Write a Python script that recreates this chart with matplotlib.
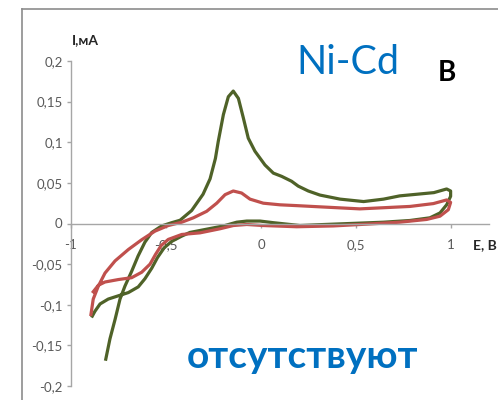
import matplotlib
matplotlib.use("Agg")
import matplotlib.pyplot as plt
from matplotlib.lines import Line2D
from matplotlib.ticker import FuncFormatter

# ---- data: cyclic voltammograms, E in V, I in mA ----
green_e = [-0.817, -0.795, -0.768, -0.742, -0.716, -0.681, -0.647, -0.611, -0.575,
           -0.523, -0.470, -0.426, -0.365, -0.305, -0.268, -0.240, -0.225, -0.198,
           -0.172, -0.146, -0.119, -0.093, -0.067, -0.032, 0.021, 0.065, 0.109,
           0.161, 0.196, 0.249, 0.310, 0.416, 0.540, 0.645, 0.730, 0.820, 0.910,
           0.977, 0.998, 0.998, 0.977, 0.942, 0.889, 0.784, 0.645, 0.468, 0.293,
           0.205, 0.153, 0.065, -0.005, -0.075, -0.128, -0.198, -0.286, -0.374,
           -0.417, -0.470, -0.510, -0.545, -0.575, -0.611, -0.646, -0.698, -0.751,
           -0.804, -0.847, -0.874, -0.888]
green_i = [-0.167, -0.142, -0.118, -0.093, -0.077, -0.059, -0.040, -0.023, -0.011,
           -0.003, 0.001, 0.004, 0.016, 0.036, 0.055, 0.080, 0.101, 0.134,
           0.156, 0.163, 0.154, 0.130, 0.105, 0.089, 0.072, 0.062, 0.058,
           0.052, 0.046, 0.040, 0.035, 0.030, 0.027, 0.030, 0.034, 0.036, 0.038,
           0.0425, 0.040, 0.0335, 0.023, 0.013, 0.007, 0.0037, 0.0016, 0.0, -0.0016,
           -0.0025, -0.0012, 0.001, 0.003, 0.003, 0.0016, -0.003, -0.007, -0.011,
           -0.0155, -0.022, -0.030, -0.042, -0.055, -0.068, -0.078, -0.085, -0.089,
           -0.093, -0.099, -0.108, -0.114]

red_e = [-0.895, -0.883, -0.856, -0.821, -0.768, -0.698, -0.628, -0.558, -0.488,
         -0.417, -0.356, -0.286, -0.233, -0.189, -0.146, -0.102, -0.058, 0.012,
         0.100, 0.188, 0.310, 0.520, 0.784, 0.907, 0.977, 0.998, 0.986, 0.942,
         0.872, 0.730, 0.556, 0.380, 0.188, 0.012, -0.075, -0.146, -0.216, -0.321,
         -0.417, -0.488, -0.525, -0.555, -0.584, -0.628, -0.681, -0.751, -0.821,
         -0.856, -0.883]
red_i = [-0.112, -0.093, -0.077, -0.061, -0.046, -0.032, -0.020, -0.0094, -0.0025,
         0.0016, 0.007, 0.015, 0.025, 0.0355, 0.040, 0.0375, 0.030, 0.025,
         0.023, 0.022, 0.0205, 0.018, 0.021, 0.0245, 0.029, 0.026, 0.017, 0.009,
         0.005, 0.0016, -0.0008, -0.003, -0.004, -0.0025, -0.0012, -0.0025, -0.0065, -0.0115,
         -0.0135, -0.0196, -0.027, -0.038, -0.050, -0.060, -0.0667, -0.069, -0.072,
         -0.076, -0.084]

x_ticks = [-1, -0.5, 0, 0.5, 1]
y_ticks = [-0.2, -0.15, -0.1, -0.05, 0, 0.05, 0.1, 0.15, 0.2]

plt.rcParams['font.family'] = ['Lato', 'DejaVu Sans']

fig = plt.figure(figsize=(4.98, 4.00), dpi=100)
ax = fig.add_axes([71 / 498, 14 / 400, 418 / 498, 325 / 400])

ax.plot(green_e, green_i, color='#4F6228', lw=2.3, solid_joinstyle='round')
ax.plot(red_e, red_i, color='#C0504D', lw=2.3, solid_joinstyle='round')

ax.set_xlim(-1, 1.2)
ax.set_ylim(-0.2, 0.2)

# axes cross at zero current, Excel style
ax.spines['top'].set_visible(False)
ax.spines['right'].set_visible(False)
ax.spines['bottom'].set_position(('data', 0))
for s in ('left', 'bottom'):
    ax.spines[s].set_color('#A6A6A6')
    ax.spines[s].set_linewidth(1.0)

def comma(v, pos):
    return ('%g' % v).replace('.', ',')

ax.set_xticks(x_ticks)
ax.set_yticks(y_ticks)
ax.xaxis.set_major_formatter(FuncFormatter(comma))
ax.yaxis.set_major_formatter(FuncFormatter(comma))
ax.tick_params(axis='both', colors='#A6A6A6', labelcolor='#595959',
               labelsize=9.5, length=3, width=1.0, direction='out')
ax.tick_params(axis='x', pad=8)
ax.tick_params(axis='y', pad=3)

# axis captions
fig.text(72 / 498, 1 - 40 / 400, 'I,мА', fontsize=10, fontweight='bold',
         color='#262626', ha='left', va='center')
fig.text(473 / 498, 1 - 245 / 400, 'E, В', fontsize=10, fontweight='bold',
         color='#262626', ha='left', va='center')

# annotations
fig.text(348 / 498, 1 - 62 / 400, 'Ni-Cd', fontsize=28.5, color='#0070C0',
         ha='center', va='center')
fig.text(447 / 498, 1 - 73 / 400, 'В', fontsize=20, fontweight='bold',
         color='black', ha='center', va='center')
fig.text(302 / 498, 1 - 357 / 400, 'отсутствуют', fontsize=28, fontweight='bold',
         color='#0070C0', ha='center', va='center')

# outer chart frame (cut off at right and bottom)
fig.add_artist(Line2D([22 / 498, 1], [1 - 9 / 400, 1 - 9 / 400],
                      transform=fig.transFigure, color='#8C8C8C', lw=1.2))
fig.add_artist(Line2D([22 / 498, 22 / 498], [0, 1 - 9 / 400],
                      transform=fig.transFigure, color='#8C8C8C', lw=1.2))

fig.savefig('out.png', dpi=100)
